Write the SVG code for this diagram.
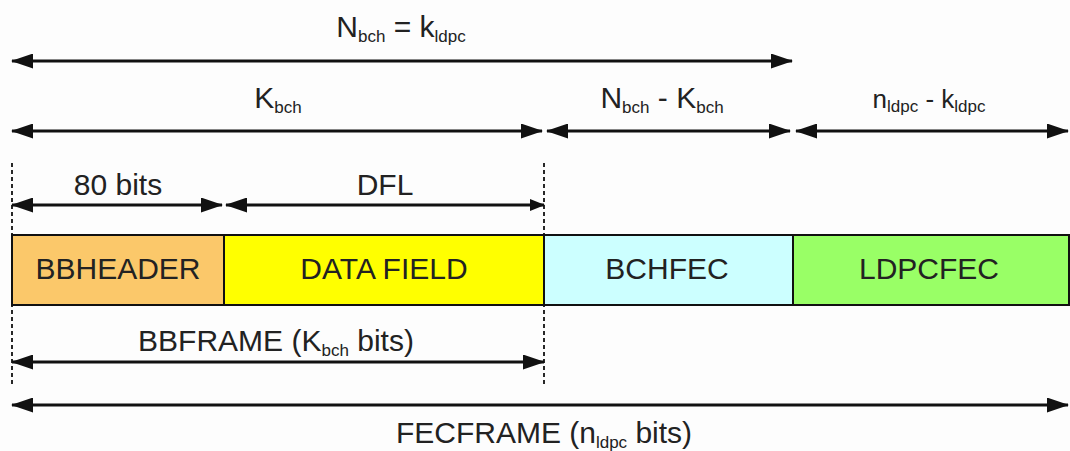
<svg xmlns="http://www.w3.org/2000/svg" width="1070" height="451" viewBox="0 0 1070 451">
<defs>
<marker id="ah" markerUnits="userSpaceOnUse" markerWidth="22" markerHeight="15" viewBox="0 0 22 15" refX="21" refY="7.5" orient="auto-start-reverse">
<path d="M0,0 L22,7.5 L0,15 z" fill="#111"/>
</marker>
<marker id="ahs" markerUnits="userSpaceOnUse" markerWidth="15" markerHeight="12" viewBox="0 0 15 12" refX="14" refY="6" orient="auto-start-reverse">
<path d="M0,0 L15,6 L0,12 z" fill="#111"/>
</marker>
<style>
text{font-family:"Liberation Sans",Arial,sans-serif;font-size:30px;fill:#222;text-anchor:middle}
.sub{font-size:17px}
.arr{stroke:#111;stroke-width:3;fill:none;marker-start:url(#ah);marker-end:url(#ah)}
.dash{stroke:#111;stroke-width:1.8;stroke-dasharray:4,3;fill:none}
.box{stroke:#111;stroke-width:2}
</style>
</defs>
<rect width="1070" height="451" fill="#fdfdfd"/>
<g id="connectors">
<line class="arr" x1="12" y1="61" x2="792" y2="61"/>
<line class="arr" x1="12" y1="131" x2="542" y2="131"/>
<line class="arr" x1="547" y1="131" x2="790" y2="131"/>
<line class="arr" x1="796" y1="131" x2="1068" y2="131"/>
<line class="arr" x1="12" y1="205" x2="222" y2="205"/>
<line class="arr" x1="226" y1="205" x2="544" y2="205" style="marker-end:url(#ahs)"/>
<line class="arr" x1="12" y1="362" x2="544" y2="362"/>
<line class="arr" x1="12" y1="405" x2="1068" y2="405"/>
<line class="dash" x1="12" y1="163" x2="12" y2="386"/>
<line class="dash" x1="544" y1="163" x2="544" y2="386"/>
</g>
<g id="labels">
<text x="401" y="37">N<tspan class="sub" dy="5">bch</tspan><tspan dy="-5"> = k</tspan><tspan class="sub" dy="5">ldpc</tspan></text>
<text x="278" y="108">K<tspan class="sub" dy="5">bch</tspan></text>
<text x="662" y="108">N<tspan class="sub" dy="5">bch</tspan><tspan dy="-5"> - K</tspan><tspan class="sub" dy="5">bch</tspan></text>
<text x="929" y="108" style="font-size:26px">n<tspan class="sub" dy="4">ldpc</tspan><tspan dy="-4"> - k</tspan><tspan class="sub" dy="4">ldpc</tspan></text>
<text x="118" y="195">80 bits</text>
<text x="385" y="195">DFL</text>
<text x="276" y="351">BBFRAME (K<tspan class="sub" dy="5">bch</tspan><tspan dy="-5"> bits)</tspan></text>
<text x="544" y="443">FECFRAME (n<tspan class="sub" dy="5">ldpc</tspan><tspan dy="-5"> bits)</tspan></text>
</g>
<g id="bbheader">
<rect class="box" x="12" y="235" width="212" height="70" fill="#FBC86A"/>
<text x="118" y="279">BBHEADER</text>
</g>
<g id="datafield">
<rect class="box" x="224" y="235" width="320" height="70" fill="#FFFF00"/>
<text x="384" y="279">DATA FIELD</text>
</g>
<g id="bchfec">
<rect class="box" x="544" y="235" width="249" height="70" fill="#CCFFFF"/>
<text x="667" y="279">BCHFEC</text>
</g>
<g id="ldpcfec">
<rect class="box" x="793" y="235" width="276" height="70" fill="#99FF66"/>
<text x="929" y="279">LDPCFEC</text>
</g>
</svg>
